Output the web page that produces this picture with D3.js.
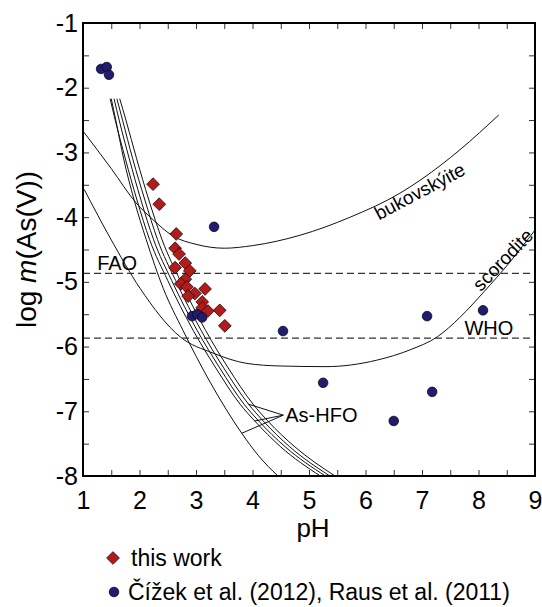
<!DOCTYPE html>
<html>
<head>
<meta charset="utf-8">
<script src="https://cdn.jsdelivr.net/npm/d3@7/dist/d3.min.js"></script>
<style>
  body { margin: 0; background: #fff; }
  svg { font-family: "Liberation Sans", Arial, sans-serif; }
</style>
</head>
<body>
<svg id="chart" width="542" height="607"></svg>
<script>
// this work (red diamonds)
const workPH   = [2.24, 2.35, 2.65, 2.63, 2.70, 2.63, 2.81, 2.89, 2.81, 2.73, 2.84, 3.16, 2.98, 2.86, 3.11, 3.11, 3.21, 3.42, 3.51];
const workLogM = [-3.49, -3.80, -4.26, -4.48, -4.57, -4.78, -4.71, -4.83, -4.96, -5.03, -5.08, -5.11, -5.18, -5.22, -5.31, -5.40, -5.45, -5.44, -5.68];

// Čížek et al. (2012), Raus et al. (2011) (blue circles)
const litPH   = [1.32, 1.42, 1.46, 3.32, 2.93, 3.02, 3.11, 4.54, 5.25, 7.09, 8.08, 7.18, 6.50];
const litLogM = [-1.71, -1.68, -1.80, -4.15, -5.53, -5.50, -5.55, -5.76, -6.56, -5.53, -5.44, -6.70, -7.15];

// solubility curves [pH, log m]
const bukovskyite = [[1.0,-2.67],[1.5,-3.25],[1.94,-3.78],[2.24,-4.04],[2.59,-4.29],[3.0,-4.42],[3.5,-4.48],[4.0,-4.44],
                     [4.84,-4.28],[5.73,-4.0],[6.61,-3.63],[7.0,-3.41],[7.67,-2.96],[8.36,-2.42]];
const scorodite = [[1.02,-3.57],[1.48,-4.32],[2.01,-5.1],[2.72,-5.85],[3.3,-6.1],[3.9,-6.26],[4.49,-6.3],[5.3,-6.31],
                   [6.2,-6.21],[6.79,-6.05],[7.27,-5.85],[7.67,-5.55],[8.1,-5.15],[8.55,-4.7],[9.0,-4.2]];
const hfoL  = [[1.5,-2.17],[1.58,-2.5],[1.72,-3.1],[1.9,-3.72],[2.12,-4.35],[2.42,-5.1],[2.77,-5.75],[3.25,-6.55],[3.81,-7.34],[4.1,-7.68],[4.45,-8.0]];
const hfo1  = [[1.48,-2.17],[1.57,-2.5],[1.75,-3.1],[1.95,-3.72],[2.18,-4.35],[2.5,-4.98],[2.95,-5.75],[3.35,-6.33],[3.78,-6.89],[4.04,-7.15],[4.5,-7.55],[5.2,-8.0]];
const hfo2  = [[1.55,-2.17],[1.64,-2.5],[1.82,-3.1],[2.02,-3.72],[2.25,-4.35],[2.57,-4.98],[3.02,-5.75],[3.42,-6.33],[3.85,-6.89],[4.11,-7.15],[4.58,-7.55],[5.29,-8.0]];
const hfo3  = [[1.6,-2.17],[1.7,-2.5],[1.88,-3.1],[2.09,-3.72],[2.32,-4.35],[2.64,-4.98],[3.09,-5.75],[3.49,-6.33],[3.93,-6.89],[4.19,-7.15],[4.66,-7.55],[5.37,-8.0]];
const hfo4  = [[1.65,-2.17],[1.76,-2.5],[1.95,-3.1],[2.16,-3.72],[2.4,-4.35],[2.72,-4.98],[3.17,-5.75],[3.57,-6.33],[4.01,-6.89],[4.27,-7.15],[4.75,-7.55],[5.46,-8.0]];

// limits
const limitNames = ["FAO", "WHO"];
const limitLogM  = [-4.87, -5.87];

// As-HFO pointer: tip, then points on curves
const hfoTip     = [4.545, -7.06];
const hfoTargets = [[3.93,-6.89],[4.04,-7.15],[3.81,-7.34]];

const xTicks = d3.range(1, 9.01, 0.5);
const yTicks = d3.range(-8, -0.99, 0.5);

const svg = d3.select("#chart");

const x = d3.scaleLinear().domain([1, 9]).range([83, 535]);
const y = d3.scaleLinear().domain([-8, -1]).range([476, 23]);

const line = d3.line()
  .x(d => x(d[0]))
  .y(d => y(d[1]))
  .curve(d3.curveMonotoneX);

// curves
svg.append("g")
  .selectAll("path")
  .data([bukovskyite, scorodite, hfoL, hfo1, hfo2, hfo3, hfo4])
  .join("path")
  .attr("d", line)
  .attr("fill", "none")
  .attr("stroke", "#111")
  .attr("stroke-width", 1);

// As-HFO pointer lines
svg.append("g")
  .selectAll("line")
  .data(hfoTargets)
  .join("line")
  .attr("x1", x(hfoTip[0])).attr("y1", y(hfoTip[1]))
  .attr("x2", d => x(d[0])).attr("y2", d => y(d[1]))
  .attr("stroke", "#111")
  .attr("stroke-width", 1);

svg.append("text")
  .attr("x", x(hfoTip[0]) + 2)
  .attr("y", y(hfoTip[1]))
  .attr("dy", "0.35em")
  .attr("font-size", 20)
  .text("As-HFO");

// dashed limits
svg.append("g")
  .selectAll("line")
  .data(limitLogM)
  .join("line")
  .attr("x1", x(1)).attr("x2", x(9))
  .attr("y1", d => y(d)).attr("y2", d => y(d))
  .attr("stroke", "#333")
  .attr("stroke-width", 1.2)
  .attr("stroke-dasharray", "7,4");

svg.append("text")
  .attr("x", x(1.25)).attr("y", y(limitLogM[0]) - 3)
  .attr("font-size", 20)
  .text(limitNames[0]);
svg.append("text")
  .attr("x", x(7.75)).attr("y", y(limitLogM[1]) - 3)
  .attr("font-size", 20)
  .text(limitNames[1]);

// curve labels
svg.append("text")
  .attr("transform", `translate(${x(6.96)},${y(-3.6)}) rotate(-28)`)
  .attr("text-anchor", "middle")
  .attr("dy", "0.35em")
  .attr("font-size", 19)
  .text("bukovskýite");
svg.append("text")
  .attr("transform", `translate(${x(8.43)},${y(-4.66)}) rotate(-46)`)
  .attr("text-anchor", "middle")
  .attr("dy", "0.35em")
  .attr("font-size", 19)
  .text("scorodite");

// points
const diamond = d3.symbol().type(d3.symbolSquare).size(81);

svg.append("g")
  .selectAll("path")
  .data(d3.range(workPH.length))
  .join("path")
  .attr("d", diamond)
  .attr("transform", i => `translate(${x(workPH[i])},${y(workLogM[i])}) rotate(45)`)
  .attr("fill", "#b01c1c")
  .attr("stroke", "#2a0a0a")
  .attr("stroke-width", 0.8);

svg.append("g")
  .selectAll("circle")
  .data(d3.range(litPH.length))
  .join("circle")
  .attr("cx", i => x(litPH[i]))
  .attr("cy", i => y(litLogM[i]))
  .attr("r", 4.8)
  .attr("fill", "#211c6e")
  .attr("stroke", "#0a0a20")
  .attr("stroke-width", 0.8);

// axes, ticks inward on all four sides
function styleAxis(g) {
  g.select(".domain").remove();
  g.selectAll(".tick line").attr("stroke", "#333").attr("stroke-width", 1);
  g.selectAll(".tick text").attr("font-size", 25).attr("fill", "#000")
    .attr("font-family", "Liberation Sans, Arial, sans-serif");
}
const label = d => Number.isInteger(d) ? d : "";

svg.append("g")
  .attr("transform", `translate(0,${y(-8)})`)
  .call(d3.axisBottom(x).tickValues(xTicks).tickSize(-6).tickPadding(15).tickFormat(label))
  .call(styleAxis);
svg.append("g")
  .attr("transform", `translate(0,${y(-1)})`)
  .call(d3.axisTop(x).tickValues(xTicks).tickSize(-6).tickFormat(""))
  .call(styleAxis);
svg.append("g")
  .attr("transform", `translate(${x(1)},0)`)
  .call(d3.axisLeft(y).tickValues(yTicks).tickSize(-6).tickPadding(5).tickFormat(label))
  .call(styleAxis);
svg.append("g")
  .attr("transform", `translate(${x(9)},0)`)
  .call(d3.axisRight(y).tickValues(yTicks).tickSize(-6).tickFormat(""))
  .call(styleAxis);

svg.append("rect")
  .attr("x", x(1)).attr("y", y(-1))
  .attr("width", x(9) - x(1)).attr("height", y(-8) - y(-1))
  .attr("fill", "none")
  .attr("stroke", "#000")
  .attr("stroke-width", 2);

// axis titles
svg.append("text")
  .attr("x", (x(1) + x(9)) / 2 + 4).attr("y", 537)
  .attr("text-anchor", "middle")
  .attr("font-size", 26)
  .text("pH");

const yTitle = svg.append("text")
  .attr("transform", `translate(36,${(y(-1) + y(-8)) / 2}) rotate(-90)`)
  .attr("text-anchor", "middle")
  .attr("font-size", 28);
yTitle.append("tspan").text("log ");
yTitle.append("tspan").attr("font-style", "italic").text("m");
yTitle.append("tspan").text("(As(V))");

// legend
const legend = svg.append("g");
legend.append("path")
  .attr("d", diamond)
  .attr("transform", "translate(113,558) rotate(45)")
  .attr("fill", "#b01c1c")
  .attr("stroke", "#2a0a0a")
  .attr("stroke-width", 0.8);
legend.append("text").attr("x", 131).attr("y", 566).attr("font-size", 23).text("this work");
legend.append("circle")
  .attr("cx", 114).attr("cy", 592).attr("r", 4.8)
  .attr("fill", "#211c6e")
  .attr("stroke", "#0a0a20")
  .attr("stroke-width", 0.8);
legend.append("text").attr("x", 128).attr("y", 600).attr("font-size", 23)
  .text("Čížek et al. (2012), Raus et al. (2011)");
</script>
</body>
</html>
